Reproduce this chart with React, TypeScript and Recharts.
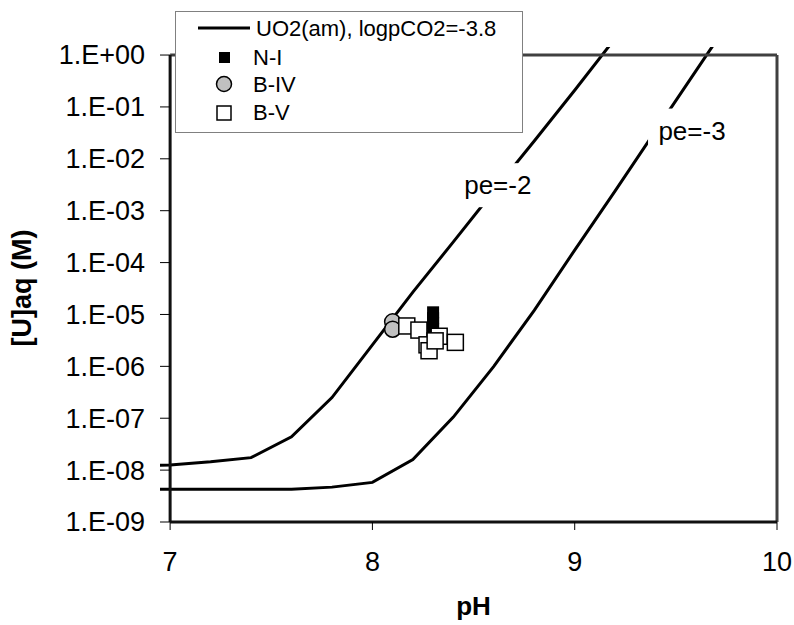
import React from 'react';
import { ComposedChart, Line, Scatter, XAxis, YAxis, ReferenceLine, ReferenceDot, Legend } from 'recharts';

const FONT = '"Liberation Sans", Arial, sans-serif';

// model curves, UO2(am) solubility, logpCO2 = -3.8
const phGrid = [6.8, 7.0, 7.2, 7.4, 7.6, 7.8, 8.0, 8.2, 8.4, 8.6, 8.8, 9.0, 9.2, 9.4, 9.6, 9.8];
const pe2Values = [1.17e-8, 1.26e-8, 1.45e-8, 1.74e-8, 4.4e-8, 2.5e-7, 2.6e-6, 2.7e-5, 2.5e-4, 2.4e-3, 2.2e-2, 2.1e-1, 2.1];
const pe3Values = [4.3e-9, 4.3e-9, 4.3e-9, 4.3e-9, 4.3e-9, 4.7e-9, 5.8e-9, 1.6e-8, 1.05e-7, 1.0e-6, 1.2e-5, 1.74e-4, 2.4e-3, 3.5e-2, 5.0e-1, 7.2];

// measured samples
const niPH = [8.3, 8.3, 8.3, 8.3, 8.3, 8.29, 8.29];
const niU = [1.1e-5, 8.5e-6, 6.8e-6, 5.2e-6, 3.8e-6, 2.6e-6, 2.0e-6];
const bivPH = [8.1, 8.1];
const bivU = [7.2e-6, 5.2e-6];
const bvPH = [8.17, 8.23, 8.33, 8.41, 8.27, 8.28, 8.31];
const bvU = [6.0e-6, 5.0e-6, 3.8e-6, 2.9e-6, 2.6e-6, 2.0e-6, 3.1e-6];

const xTicks = [7, 8, 9, 10];
const yTicks = [1e-9, 1e-8, 1e-7, 1e-6, 1e-5, 1e-4, 1e-3, 1e-2, 1e-1, 1];

const curveName = 'UO2(am), logpCO2=-3.8';
const seriesNames = ['N-I', 'B-IV', 'B-V'];
const peLabels = [
  { text: 'pe=-2', ph: 8.62, u: 3.1e-3 },
  { text: 'pe=-3', ph: 9.58, u: 3.5e-2 },
];

const pe2Data = pe2Values.map((u, i) => ({ ph: phGrid[i], u }));
const pe3Data = pe3Values.map((u, i) => ({ ph: phGrid[i], u }));
const niData = niPH.map((ph, i) => ({ ph, u: niU[i] }));
const bivData = bivPH.map((ph, i) => ({ ph, u: bivU[i] }));
const bvData = bvPH.map((ph, i) => ({ ph, u: bvU[i] }));

const fmtExp = (v: number) => {
  const e = Math.round(Math.log10(v));
  return `1.E${e < 0 ? '-' : '+'}${String(Math.abs(e)).padStart(2, '0')}`;
};

const YTick = (props: any) => {
  const { x, y, payload } = props;
  return (
    <g>
      <line x1={x + 15} x2={x + 25} y1={y} y2={y} stroke="#000" strokeWidth={1} />
      <text x={x} y={y} dy="0.35em" textAnchor="end" fontSize={27} fontFamily={FONT} fill="#000">
        {fmtExp(payload.value)}
      </text>
    </g>
  );
};

const SquareBlack = (p: any) => <rect x={p.cx - 6} y={p.cy - 6} width={12} height={12} fill="#000" />;
const CircleGray = (p: any) => <circle cx={p.cx} cy={p.cy} r={8} fill="#c0c0c0" stroke="#000" strokeWidth={1.5} />;
const SquareOpen = (p: any) => (
  <rect x={p.cx - 8} y={p.cy - 8} width={16} height={16} fill="#fff" stroke="#000" strokeWidth={1.5} />
);

const peShape = (text: string) => (p: any) => (
  <g>
    <rect x={p.cx - 44} y={p.cy - 22} width={88} height={44} fill="#fff" />
    <text x={p.cx} y={p.cy + 9} textAnchor="middle" fontSize={26} fontFamily={FONT} fill="#000">
      {text}
    </text>
  </g>
);

const renderLegend = () => (
  <svg width={348} height={122} style={{ display: 'block' }}>
    <rect x={0.5} y={0.5} width={347} height={121} fill="#fff" stroke="#808080" strokeWidth={1} />
    <g fontFamily={FONT} fontSize={22} fill="#000">
      <line x1={23} x2={75} y1={17} y2={17} stroke="#000" strokeWidth={3} />
      <text x={81} y={25}>{curveName}</text>
      <rect x={44} y={41} width={11} height={11} fill="#000" />
      <text x={78} y={54}>{seriesNames[0]}</text>
      <circle cx={49} cy={73} r={7.5} fill="#c0c0c0" stroke="#000" strokeWidth={1.5} />
      <text x={78} y={81}>{seriesNames[1]}</text>
      <rect x={42} y={95} width={14} height={14} fill="#fff" stroke="#000" strokeWidth={1.5} />
      <text x={78} y={109}>{seriesNames[2]}</text>
    </g>
  </svg>
);

export default function App() {
  return (
    <div style={{ position: 'absolute', left: 0, top: 0, background: '#fff' }}>
      <ComposedChart width={794} height={625} margin={{ top: 47, right: 17, bottom: 0, left: 0 }}>
        <XAxis
          dataKey="ph"
          type="number"
          domain={[6.95, 10]}
          ticks={xTicks}
          allowDataOverflow
          axisLine={false}
          tickLine={{ stroke: '#000', strokeWidth: 1 }}
          tickSize={8}
          tickMargin={22}
          height={103}
          tick={{ fontSize: 27, fontFamily: FONT, fill: '#000' }}
          label={{
            content: () => (
              <text x={473.5} y={615} textAnchor="middle" fontSize={26} fontWeight="bold" fontFamily={FONT} fill="#000">
                pH
              </text>
            ),
          }}
        />
        <YAxis
          dataKey="u"
          type="number"
          scale="log"
          domain={[1e-9, Math.pow(10, 0.155)]}
          ticks={yTicks}
          allowDataOverflow
          axisLine={false}
          tickLine={false}
          tickSize={0}
          tickMargin={15}
          width={160}
          tick={<YTick />}
          label={{
            content: () => (
              <text
                x={22}
                y={288}
                transform="rotate(-90 22 288)"
                textAnchor="middle"
                dominantBaseline="central"
                fontSize={27}
                fontWeight="bold"
                fontFamily={FONT}
                fill="#000"
              >
                [U]aq (M)
              </text>
            ),
          }}
        />
        <Line data={pe2Data} dataKey="u" stroke="#000" strokeWidth={3} dot={false} isAnimationActive={false} />
        <Line data={pe3Data} dataKey="u" stroke="#000" strokeWidth={3} dot={false} isAnimationActive={false} />
        {peLabels.map((l) => (
          <ReferenceDot key={l.text} x={l.ph} y={l.u} r={1} shape={peShape(l.text)} />
        ))}
        <ReferenceLine segment={[{ x: 7, y: 1 }, { x: 10, y: 1 }]} stroke="#404040" strokeWidth={3} />
        <ReferenceLine segment={[{ x: 10, y: 1e-9 }, { x: 10, y: 1 }]} stroke="#404040" strokeWidth={3} />
        <ReferenceLine segment={[{ x: 7, y: 1e-9 }, { x: 10, y: 1e-9 }]} stroke="#111" strokeWidth={3} />
        <ReferenceLine segment={[{ x: 7, y: 1e-9 }, { x: 7, y: 1 }]} stroke="#111" strokeWidth={3} />
        <Scatter data={niData} dataKey="u" shape={SquareBlack} isAnimationActive={false} />
        <Scatter data={bivData} dataKey="u" shape={CircleGray} isAnimationActive={false} />
        <Scatter data={bvData} dataKey="u" shape={SquareOpen} isAnimationActive={false} />
        <Legend
          layout="horizontal"
          verticalAlign="middle"
          align="center"
          content={renderLegend}
          wrapperStyle={{ left: 175, top: 11, width: 348, height: 122 }}
        />
      </ComposedChart>
    </div>
  );
}
